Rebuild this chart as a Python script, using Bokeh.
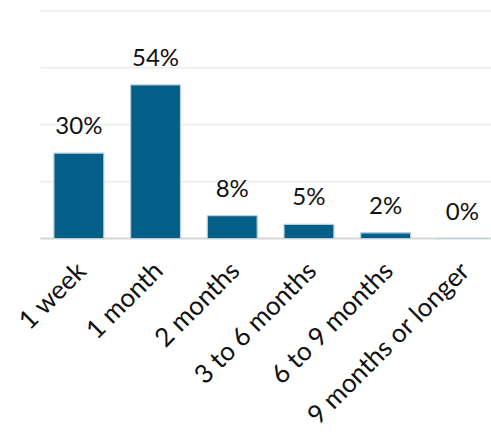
import math
from bokeh.plotting import figure
from bokeh.models import ColumnDataSource, Range1d, LabelSet, Label
from bokeh.core.properties import value
from bokeh.embed import file_html
from bokeh.resources import INLINE

categories = ["1 week", "1 month", "2 months", "3 to 6 months", "6 to 9 months", "9 months or longer"]
values = [30, 54, 8, 5, 2, 0]
labels = ["30%", "54%", "8%", "5%", "2%", "0%"]
grid_values = [20, 40, 60, 80]

xs = [i + 0.5 for i in range(len(categories))]
src = ColumnDataSource(dict(x=xs, top=values, lab=labels))

# frame covers the whole canvas; the label area below 0 is part of the frame
X_START, X_END = -0.5215, 5.88
Y_START, Y_END = -69.62, 83.69

p = figure(width=491, height=436, output_backend="svg", toolbar_location=None,
           x_range=Range1d(X_START, X_END), y_range=Range1d(Y_START, Y_END),
           min_border_left=0, min_border_right=0, min_border_top=0, min_border_bottom=0)
p.outline_line_color = None
p.background_fill_color = "white"
p.border_fill_color = "white"
p.xaxis.visible = False
p.yaxis.visible = False
p.xgrid.visible = False
p.ygrid.visible = False

# gridlines
p.segment(x0=[0] * len(grid_values), x1=[X_END] * len(grid_values), y0=grid_values, y1=grid_values,
          line_color="#efefef", line_width=2)
# baseline
p.segment(x0=[0], x1=[X_END], y0=[0], y1=[0], line_color="#d6d6d6", line_width=2)

p.vbar(x="x", top="top", bottom=0, width=0.65, source=src,
       fill_color="#035f87", line_color="#b4cdda", line_width=1.2)

p.add_layout(LabelSet(x="x", y="top", text="lab", source=src, text_align="center",
                      text_baseline="alphabetic", y_offset=19, text_font=value("Lato"),
                      text_font_size=value("24px"), text_color="#111111"))

for x, c in zip(xs, categories):
    p.add_layout(Label(x=x, y=0, text=c, text_align="right", text_baseline="middle",
                       x_offset=2, y_offset=-27, angle=math.pi / 4,
                       text_font="Lato", text_font_size="26px", text_color="#111111"))

open("out.html", "w").write(file_html(p, INLINE))
